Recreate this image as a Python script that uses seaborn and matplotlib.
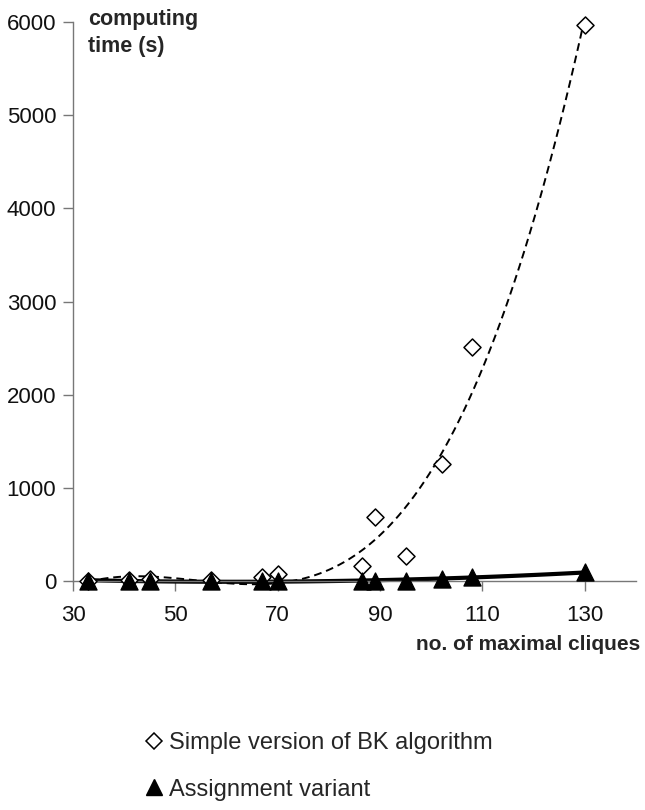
import matplotlib
matplotlib.use("Agg")
import matplotlib.pyplot as plt
import seaborn as sns
import numpy as np
import pandas as pd
from matplotlib.lines import Line2D

sns.set_theme(style="white")
plt.rcParams['font.family'] = ['Liberation Sans', 'DejaVu Sans']

cliques = [33, 41, 45, 57, 67, 70, 86.5, 89, 95, 102, 108, 130]
simple_time = [2, 15, 20, 15, 45, 75, 160, 690, 270, 1260, 2510, 5970]
assign_time = [0, 0, 0, 0, 0, 0, 0, 2, 2, 25, 45, 95]
x_ticks = [30, 50, 70, 90, 110, 130]
y_ticks = [0, 1000, 2000, 3000, 4000, 5000, 6000]

df = pd.DataFrame({"cliques": cliques, "simple": simple_time, "assign": assign_time})

fig = plt.figure(figsize=(6.45, 8.1), dpi=100)
ax = fig.add_axes([73/645, 1 - 581/810, (636-73)/645, (581-22)/810])

# trend lines
sns.regplot(data=df, x="cliques", y="simple", order=3, ci=None, scatter=False,
            truncate=True, ax=ax, line_kws=dict(color="black", lw=1.4, ls=(0, (4, 2.5))))
sns.lineplot(data=df, x="cliques", y="assign", ax=ax, color="#888888", lw=1.0)
sns.regplot(data=df, x="cliques", y="assign", order=2, ci=None, scatter=False,
            truncate=True, ax=ax, line_kws=dict(color="black", lw=3.0))

# points
sns.scatterplot(data=df, x="cliques", y="simple", marker="D", s=75, facecolor="white",
                edgecolor="black", linewidth=1.1, ax=ax, zorder=4, clip_on=False)
sns.scatterplot(data=df, x="cliques", y="assign", marker="^", s=150, color="black",
                edgecolor="black", ax=ax, zorder=5, clip_on=False)

ax.set_xlim(30, 140)
ax.set_ylim(0, 6000)
ax.set_xticks(x_ticks)
ax.set_yticks(y_ticks)
ax.set_xlabel("")
ax.set_ylabel("")
for s in ["top", "right"]:
    ax.spines[s].set_visible(False)
for s in ["left", "bottom"]:
    ax.spines[s].set_color("#777777")
    ax.spines[s].set_linewidth(1.0)
ax.tick_params(axis="both", which="both", direction="out", length=7, width=1.0,
               color="#777777", labelsize=16, labelcolor="#111111", pad=5,
               bottom=True, left=True)
ax.tick_params(axis="x", pad=10)
for line in ax.lines:
    line.set_clip_on(False)

fig.text(88/645, 1 - 9/810, "computing\ntime (s)", fontsize=15.5, fontweight="bold",
         ha="left", va="top", linespacing=1.4)
fig.text(640/645, 1 - 645/810, "no. of maximal cliques", fontsize=15, fontweight="bold",
         ha="right", va="center")

handles = [Line2D([], [], marker="D", ls="none", markersize=8, markerfacecolor="white",
                  markeredgecolor="black", markeredgewidth=1.1),
           Line2D([], [], marker="^", ls="none", markersize=12, color="black")]
fig.legend(handles, ["Simple version of BK algorithm", "Assignment variant"],
           loc="upper left", bbox_to_anchor=(135/645, 1 - 720/810), frameon=False,
           fontsize=17, handlelength=0.6, handletextpad=0.35, labelspacing=1.05,
           borderpad=0)

fig.savefig("out.png", dpi=100)
